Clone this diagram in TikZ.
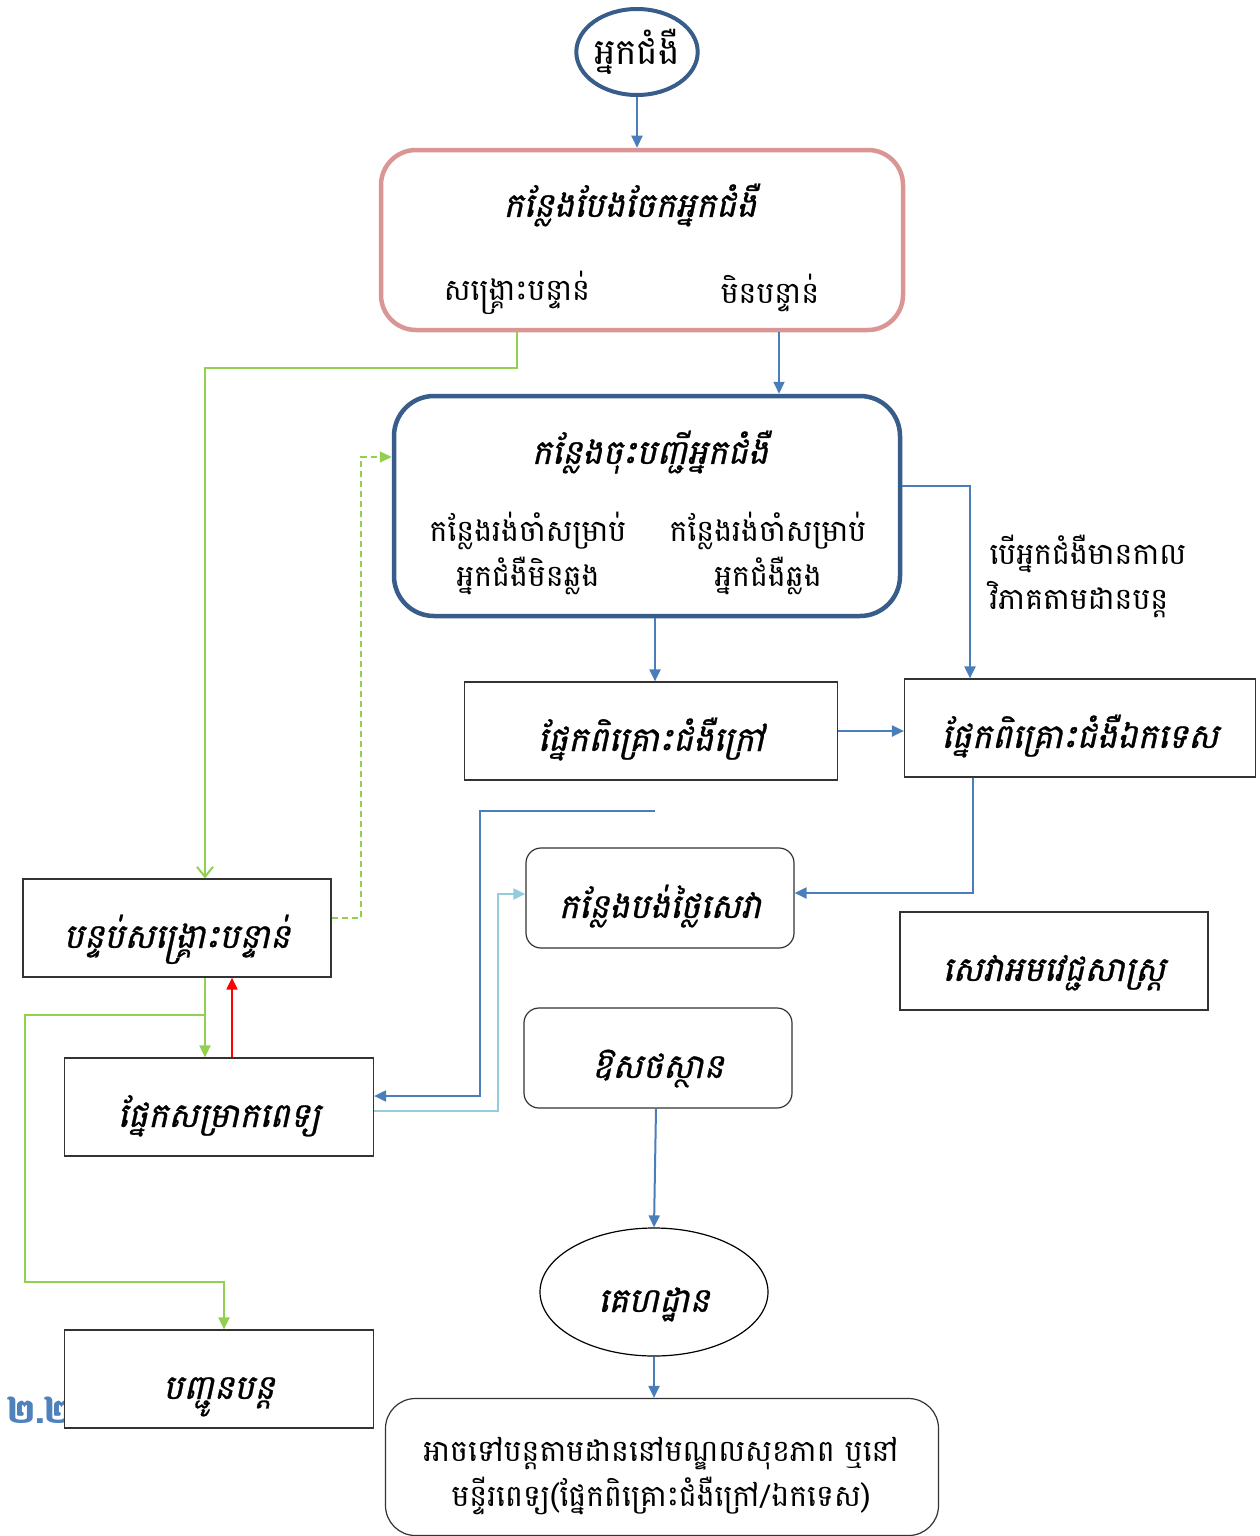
\documentclass[tikz,border=0pt]{standalone}
\usepackage{fontspec}
\newfontfamily\khmer[Script=Khmer]{Battambang}
\newfontfamily\khmerhead[Script=Khmer,FakeSlant=0.22,FakeBold=0.8]{Battambang}
\usetikzlibrary{arrows.meta, shapes.geometric, positioning}

\definecolor{arrblue}{HTML}{4A7EBB}
\definecolor{regline}{HTML}{385D8A}
\definecolor{pinkline}{HTML}{D99694}
\definecolor{greenline}{HTML}{92D050}
\definecolor{lightblue}{HTML}{93CDDD}
\definecolor{headblue}{HTML}{4F81BD}

\begin{document}
\begin{tikzpicture}[x=1pt, y=-1pt,
  every node/.style={font=\khmer\fontsize{30}{45}\selectfont},
  heading/.style={font=\khmerhead\fontsize{34}{40}\selectfont},
  unitbox/.style={draw=black!80, line width=1.2pt, fill=white, minimum height=98,
    text height=40pt, text depth=0pt, font=\khmerhead\fontsize{34}{40}\selectfont},
  roundbox/.style={unitbox, rounded corners=15pt, minimum height=100},
  blueflow/.style={draw=arrblue, line width=2pt, -{Triangle[length=12pt,width=11pt]}},
  greenflow/.style={draw=greenline, line width=2pt, -{Triangle[length=12pt,width=11pt]}},
  auto]
  \useasboundingbox (0,0) rectangle (1259,1536);

  % top of the flow
  \node[ellipse, draw=regline, line width=4pt, minimum width=120, minimum height=86,
    inner sep=0pt, font=\khmer\fontsize{36}{40}\selectfont] (patient) at (637,52) {អ្នកជំងឺ};
  \node[draw=pinkline, line width=4.5pt, rounded corners=35pt,
    minimum width=522, minimum height=180] (triage) at (642,240) {};
  \node[heading] (triage_t) at (630,205) {កន្លែងបែងចែកអ្នកជំងឺ};
  \node (urgent) at (517,293) {សង្គ្រោះបន្ទាន់};
  \node (nonurgent) at (770,293) {មិនបន្ទាន់};

  \node[draw=regline, line width=4.5pt, rounded corners=40pt,
    minimum width=506, minimum height=220] (reg) at (647,506) {};
  \node[heading] (reg_t) at (650,452) {កន្លែងចុះបញ្ជីអ្នកជំងឺ};
  \node[align=center] (wait_a) at (528,553) {កន្លែងរង់ចាំសម្រាប់\\អ្នកជំងឺមិនឆ្លង};
  \node[align=center] (wait_b) at (768,553) {កន្លែងរង់ចាំសម្រាប់\\អ្នកជំងឺឆ្លង};
  \node[align=left, anchor=west] (followup) at (986,576) {បើអ្នកជំងឺមានកាល\\វិភាគតាមដានបន្ត};

  % consultation and payment
  \node[unitbox, minimum width=373] (opd) at (651,731) {ផ្នែកពិគ្រោះជំងឺក្រៅ};
  \node[unitbox, minimum width=351] (spec) at (1080,728) {ផ្នែកពិគ្រោះជំងឺឯកទេស};
  \node[roundbox, minimum width=268] (pay) at (660,898) {កន្លែងបង់ថ្លៃសេវា};
  \node[unitbox, minimum width=308] (para) at (1054,961) {សេវាអមវេជ្ជសាស្ត្រ};
  \node[roundbox, minimum width=268] (pharm) at (658,1058) {ឱសថស្ថាន};
  \node[ellipse, draw=black, line width=1.2pt, minimum width=228, minimum height=128,
    text height=40pt, text depth=0pt,
    font=\khmerhead\fontsize{34}{40}\selectfont] (home) at (654,1292) {គេហដ្ឋាន};

  % left side
  \node[unitbox, minimum width=308] (er) at (177,928) {បន្ទប់សង្គ្រោះបន្ទាន់};
  \node[unitbox, minimum width=309] (ward) at (219,1107) {ផ្នែកសម្រាកពេទ្យ};
  \node[anchor=west, text=headblue, font=\khmer\bfseries\fontsize{34}{40}\selectfont]
    (secnum) at (4,1410) {២.២};
  \node[unitbox, minimum width=309] (refer) at (219,1379) {បញ្ជូនបន្ត};
  \node[draw=black!80, line width=1.2pt, fill=white, rounded corners=30pt,
    minimum width=553, minimum height=137] (final) at (662,1467) {};
  \node[align=center] (final_t) at (661,1476)
    {អាចទៅបន្តតាមដាននៅមណ្ឌលសុខភាព ឬនៅ\\មន្ទីរពេទ្យ(ផ្នែកពិគ្រោះជំងឺក្រៅ/ឯកទេស)};

  \coordinate (opd_out) at (655,811);
  \coordinate (split) at (205,1015);

  % connectors
  \path[blueflow] (patient.south) -- (patient.south |- triage.north);
  \path[blueflow] (triage.south -| 779,0) -- (reg.north -| 779,0);
  \path[blueflow] (reg.east |- 0,486) -| (spec.north -| 970,0);
  \path[blueflow] (reg.south -| 655,0) -- (opd.north -| 655,0);
  \path[blueflow] (opd.east) -- (opd.east -| spec.west);
  \path[blueflow] (spec.south -| 973,0) |- (pay.east |- 0,893);
  \path[blueflow] (opd_out) -| (480,1096) -- (ward.east |- 0,1096);
  \path[draw=lightblue, line width=2pt, -{Triangle[length=12pt,width=11pt]}]
    (ward.east |- 0,1111) -| (498,894) -- (pay.west |- 0,894);
  \path[blueflow] (pharm.south -| 656,0) -- (home.north);
  \path[blueflow] (home.south) -- (final.north -| home.south);

  \path[draw=greenline, line width=2pt, -{Straight Barb[length=10pt,width=16pt]}]
    (triage.south -| 517,0) |- (205,368) -- (er.north -| 205,0);
  \path[draw=greenline, line width=2pt, dash pattern=on 6pt off 4pt,
    -{Triangle[length=12pt,width=11pt]}]
    (er.east |- 0,918) -| (361,457) -- (reg.west |- 0,457);
  \path[greenflow] (er.south -| 205,0) -- (ward.north -| 205,0);
  \path[greenflow] (split) -| (25,1282) -| (refer.north -| 224,0);
  \path[draw=red, line width=2pt, -{Triangle[length=12pt,width=11pt]}]
    (ward.north -| 232,0) -- (er.south -| 232,0);
\end{tikzpicture}
\end{document}
